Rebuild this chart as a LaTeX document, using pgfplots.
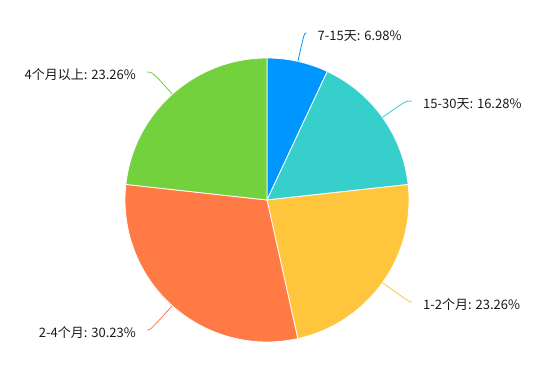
\documentclass[border=0pt]{standalone}
\usepackage{pgfplots}
\pgfplotsset{compat=1.18}
\usepackage{pgfplotstable}
\usepackage{fontspec}
\setmainfont{Noto Sans CJK SC}
\definecolor{cA}{RGB}{0,150,255}
\definecolor{cB}{RGB}{54,207,203}
\definecolor{cC}{RGB}{255,198,61}
\definecolor{cD}{RGB}{255,122,69}
\definecolor{cE}{RGB}{115,209,61}
\definecolor{txt}{RGB}{25,25,25}
\newcommand\lblfont{\fontsize{13}{15}\selectfont}
\pgfplotstableread[col sep=comma]{
name,value,color,lx,ly,side
7-15天,6.98,cA,306.5,33,1
15-30天,16.28,cB,412,101,1
1-2个月,23.26,cC,412,302,1
2-4个月,30.23,cD,147,330,-1
4个月以上,23.26,cE,147,72,-1
}\piedata
\begin{document}
\begin{tikzpicture}
\begin{axis}[x=1pt,y=1pt,xmin=0,xmax=537,ymin=0,ymax=369,hide axis,clip=false]
\path (axis cs:0,0) rectangle (axis cs:537,369);
\def\cum{0}
\pgfplotsforeachungrouped \i in {0,...,4}{%
 \pgfplotstablegetelem{\i}{value}\of\piedata \edef\v{\pgfplotsretval}%
 \pgfplotstablegetelem{\i}{name}\of\piedata \edef\n{\pgfplotsretval}%
 \pgfplotstablegetelem{\i}{color}\of\piedata \edef\c{\pgfplotsretval}%
 \pgfplotstablegetelem{\i}{lx}\of\piedata \edef\lx{\pgfplotsretval}%
 \pgfplotstablegetelem{\i}{ly}\of\piedata \edef\ly{\pgfplotsretval}%
 \pgfplotstablegetelem{\i}{side}\of\piedata \edef\side{\pgfplotsretval}%
 \pgfmathsetmacro\a{90-3.6*\cum}%
 \pgfmathsetmacro\b{90-3.6*(\cum+\v)}%
 \pgfmathsetmacro\m{(\a+\b)/2}%
 \pgfmathsetmacro\ey{369-\ly}%
 \pgfmathsetmacro\d{(\ey-169)/sin(\m)}%
 \pgfmathsetmacro\tx{\lx+11*\side}%
 \pgfmathsetmacro\ty{\ey-3}%
 \ifnum\side>0 \def\anc{west}\else\def\anc{east}\fi
 \edef\temp{\noexpand\fill[\c,draw=white,line width=0.8pt] (axis cs:267,169) -- ++(\a:142pt) arc[start angle=\a,end angle=\b,radius=142pt] -- cycle;
  \noexpand\draw[\c,line width=0.8pt] ([shift={(\m:142pt)}]axis cs:267,169) .. controls ([shift={(\m:\d pt)}]axis cs:267,169) .. (axis cs:\lx,\ey);
  \noexpand\node[anchor=\anc,text=txt,font=\noexpand\lblfont,inner sep=0pt] at (axis cs:\tx,\ty) {\n: \v\noexpand\%};}%
 \temp
 \pgfmathsetmacro\cum{\cum+\v}%
}
\end{axis}
\end{tikzpicture}
\end{document}
